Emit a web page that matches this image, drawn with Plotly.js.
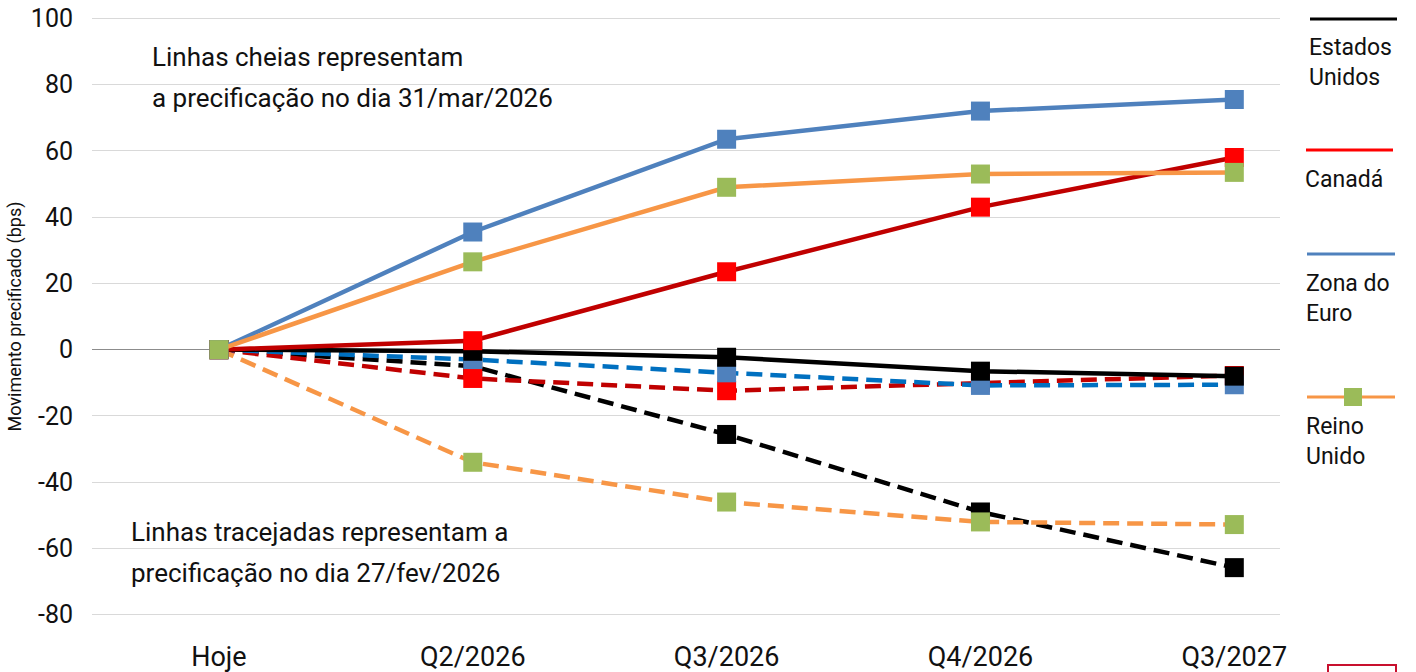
<!DOCTYPE html>
<html>
<head>
<meta charset="utf-8">
<script src="https://cdn.plot.ly/plotly-3.0.1.min.js"></script>
<style>html,body{margin:0;padding:0;background:#fff;}#chart{width:1416px;height:672px;}</style>
</head>
<body>
<div id="chart"></div>
<script>
// ---- data ----
const categories = ['Hoje', 'Q2/2026', 'Q3/2026', 'Q4/2026', 'Q3/2027'];
// Linhas cheias: 31/mar/2026
const usMar = [0, -0.5, -2.3, -6.5, -8];
const caMar = [0, 2.7, 23.5, 43, 58];
const euMar = [0, 35.5, 63.5, 72, 75.5];
const ukMar = [0, 26.5, 49, 53, 53.5];
// Linhas tracejadas: 27/fev/2026
const usFeb = [0, -5, -25.6, -49, -65.8];
const caFeb = [0, -8.7, -12.4, -10, -7.8];
const euFeb = [0, -3, -7, -10.8, -10.6];
const ukFeb = [0, -34, -46, -52, -52.8];
const yTicks = [-80, -60, -40, -20, 0, 20, 40, 60, 80, 100];
const yTickText = ['-80', '-60', '-40', '-20', '0', '20', '40', '60', '80', '100'];
const legendNames = ['Estados<br>Unidos', 'Canadá', 'Zona do<br>Euro', 'Reino<br>Unido'];
const noteSolid = ['Linhas cheias representam', 'a precificação no dia 31/mar/2026'];
const noteDashed = ['Linhas tracejadas representam a', 'precificação no dia 27/fev/2026'];
const yTitle = 'Movimento precificado (bps)';

// ---- layout geometry ----
const W = 1416, H = 672, ML = 92, MR = 136, MT = 15, MB = 54;
const PW = W - ML - MR, PH = H - MT - MB;
const px = x => (x - ML) / PW;
const py = y => (H - MB - y) / PH;
const FONT = 'Roboto, "DejaVu Sans", sans-serif';

function tr(y, line, marker, dash) {
  return {
    x: categories, y: y, type: 'scatter', mode: 'lines+markers',
    line: {color: line, width: 4.5, dash: dash || 'solid'},
    marker: {symbol: 'square', size: 19, color: marker, line: {width: 0}},
    showlegend: false, hoverinfo: 'skip', cliponaxis: false
  };
}
const DASH = '16px,8px';
const data = [
  tr(usFeb, '#000000', '#000000', DASH),
  tr(caFeb, '#C00000', '#FF0000', DASH),
  tr(euFeb, '#0070C0', '#4F81BD', DASH),
  tr(ukFeb, '#F79646', '#9BBB59', DASH),
  tr(usMar, '#000000', '#000000'),
  tr(caMar, '#C00000', '#FF0000'),
  tr(euMar, '#4F81BD', '#4F81BD'),
  tr(ukMar, '#F79646', '#9BBB59')
];

const shapes = [];
const annotations = [];
// white box behind dashed note
shapes.push({type: 'rect', xref: 'paper', yref: 'paper', layer: 'between',
  x0: px(124), x1: px(526), y0: py(515), y1: py(592),
  fillcolor: '#ffffff', line: {width: 0}});
function note(text, x, y) {
  annotations.push({text: text, xref: 'paper', yref: 'paper', x: px(x), y: py(y),
    xanchor: 'left', yanchor: 'middle', showarrow: false,
    font: {family: FONT, size: 26, color: '#111'}});
}
note(noteSolid[0], 150, 57);
note(noteSolid[1], 150, 98);
note(noteDashed[0], 129, 532);
note(noteDashed[1], 129, 573);

// custom legend
const legendItems = [
  {color: '#000000', yLine: 19, x0: 1310, x1: 1397, yText: 63},
  {color: '#FF0000', yLine: 150, x0: 1306, x1: 1393, yText: 180},
  {color: '#4F81BD', yLine: 254, x0: 1307, x1: 1395, yText: 298},
  {color: '#F79646', yLine: 397, x0: 1307, x1: 1395, yText: 441}
];
legendItems.forEach((it, i) => {
  shapes.push({type: 'line', xref: 'paper', yref: 'paper', x0: px(it.x0), x1: px(it.x1),
    y0: py(it.yLine), y1: py(it.yLine), line: {color: it.color, width: 3}});
  annotations.push({text: legendNames[i], xref: 'paper', yref: 'paper', x: px(it.x0 - 3), y: py(it.yText),
    xanchor: 'left', yanchor: 'middle', align: 'left', showarrow: false,
    font: {family: FONT, size: 23, color: '#111'}});
});
// marker in UK legend sample
shapes.push({type: 'rect', xref: 'paper', yref: 'paper', x0: px(1344), x1: px(1362),
  y0: py(388), y1: py(406), fillcolor: '#9BBB59', line: {width: 0}});
// partially visible logo frame bottom right
shapes.push({type: 'rect', xref: 'paper', yref: 'paper', x0: px(1328), x1: px(1396),
  y0: py(690), y1: py(665), fillcolor: 'rgba(0,0,0,0)', line: {color: '#C8102E', width: 2}});

const layout = {
  width: W, height: H,
  margin: {l: ML, r: MR, t: MT, b: MB, pad: 0},
  paper_bgcolor: '#ffffff', plot_bgcolor: '#ffffff',
  font: {family: FONT, color: '#000'},
  showlegend: false,
  xaxis: {
    type: 'category', range: [-0.5, 4.18], showgrid: false, zeroline: false, showline: false,
    ticks: '', tickfont: {family: FONT, size: 27, color: '#111'}, ticklabelstandoff: 20,
    fixedrange: true
  },
  yaxis: {
    range: [-81, 101], tickvals: yTicks, ticktext: yTickText, showgrid: true, gridcolor: '#d9d9d9', gridwidth: 1,
    zeroline: true, zerolinecolor: '#8c8c8c', zerolinewidth: 1.3, showline: false,
    ticks: '', tickfont: {family: FONT, size: 25, color: '#111'}, ticklabelstandoff: 18,
    title: {text: yTitle, font: {family: FONT, size: 18, color: '#111'}, standoff: 4},
    fixedrange: true
  },
  shapes: shapes,
  annotations: annotations
};

Plotly.newPlot('chart', data, layout, {displayModeBar: false, staticPlot: true});
</script>
</body>
</html>
